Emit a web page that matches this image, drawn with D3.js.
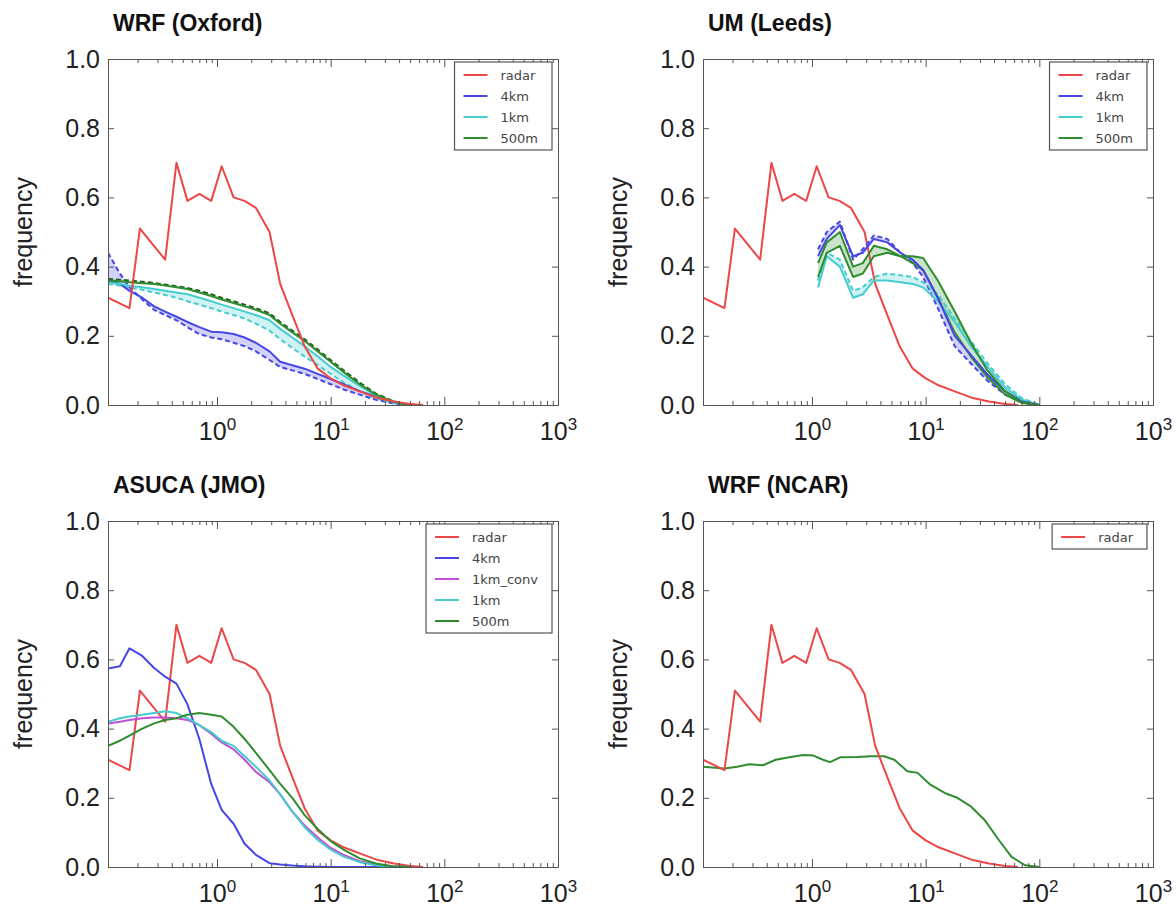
<!DOCTYPE html>
<html>
<head>
<meta charset="utf-8">
<script src="https://cdn.jsdelivr.net/npm/d3@7"></script>
<style>
  body { margin: 0; background: #fff; }
  svg { display: block; font-family: "Liberation Sans", Arial, Helvetica, sans-serif; }
</style>
</head>
<body>
<div id="chart"></div>
<script>
// radar observation, same in every panel
const radarX = [0.11, 0.17, 0.21, 0.35, 0.44, 0.55, 0.7, 0.89, 1.1, 1.4, 1.75, 2.2, 2.9, 3.6, 4.6, 5.9, 7.7, 10, 13, 18.5, 26, 36, 50, 65];
const radarY = [0.31, 0.28, 0.51, 0.42, 0.70, 0.59, 0.61, 0.59, 0.69, 0.60, 0.59, 0.57, 0.50, 0.35, 0.26, 0.17, 0.105, 0.077, 0.057, 0.038, 0.02, 0.01, 0.003, 0.0];

// WRF (Oxford)
const oxfX = [0.11, 0.14, 0.17, 0.22, 0.28, 0.35, 0.44, 0.55, 0.7, 0.89, 1.1, 1.4, 1.75, 2.2, 2.9, 3.6, 4.6, 5.9, 7.7, 10, 13, 18, 25, 35, 45, 55];
const oxf4kmSolid = [0.36, 0.35, 0.33, 0.31, 0.285, 0.27, 0.255, 0.24, 0.225, 0.212, 0.21, 0.205, 0.195, 0.18, 0.155, 0.125, 0.115, 0.105, 0.09, 0.075, 0.06, 0.04, 0.025, 0.01, 0.003, 0];
const oxf4kmDash = [0.44, 0.38, 0.34, 0.305, 0.275, 0.26, 0.245, 0.225, 0.205, 0.195, 0.19, 0.18, 0.17, 0.155, 0.13, 0.11, 0.1, 0.09, 0.075, 0.06, 0.045, 0.03, 0.015, 0.005, 0.001, 0];
const oxf1kmSolid = [0.355, 0.35, 0.345, 0.34, 0.335, 0.33, 0.325, 0.32, 0.31, 0.3, 0.29, 0.28, 0.27, 0.26, 0.245, 0.22, 0.195, 0.17, 0.14, 0.11, 0.085, 0.055, 0.028, 0.01, 0.002, 0];
const oxf1kmDash = [0.35, 0.345, 0.34, 0.333, 0.325, 0.318, 0.31, 0.3, 0.29, 0.28, 0.27, 0.26, 0.25, 0.235, 0.215, 0.19, 0.165, 0.14, 0.115, 0.09, 0.065, 0.04, 0.02, 0.006, 0.001, 0];
const oxf500Solid = [0.36, 0.358, 0.355, 0.352, 0.35, 0.345, 0.34, 0.335, 0.325, 0.315, 0.305, 0.295, 0.285, 0.275, 0.26, 0.235, 0.21, 0.185, 0.155, 0.125, 0.095, 0.06, 0.03, 0.01, 0.002, 0];
const oxf500Dash = [0.365, 0.362, 0.36, 0.356, 0.353, 0.348, 0.343, 0.338, 0.33, 0.32, 0.31, 0.3, 0.29, 0.28, 0.265, 0.24, 0.215, 0.19, 0.16, 0.13, 0.1, 0.065, 0.033, 0.012, 0.003, 0];

// UM (Leeds)
const umX = [1.13, 1.35, 1.76, 2.3, 2.8, 3.5, 4.6, 6.0, 7.7, 9.5, 12.8, 18, 25, 35, 50, 70, 100];
const um4kmSolid = [0.43, 0.48, 0.52, 0.43, 0.44, 0.48, 0.47, 0.44, 0.42, 0.39, 0.31, 0.20, 0.145, 0.088, 0.04, 0.01, 0];
const um4kmDash = [0.45, 0.50, 0.53, 0.42, 0.45, 0.49, 0.48, 0.44, 0.41, 0.37, 0.28, 0.17, 0.12, 0.07, 0.03, 0.007, 0];
const um1kmSolid = [0.34, 0.43, 0.40, 0.31, 0.32, 0.36, 0.36, 0.355, 0.35, 0.34, 0.30, 0.24, 0.17, 0.11, 0.05, 0.015, 0];
const um1kmDash = [0.36, 0.44, 0.42, 0.33, 0.34, 0.37, 0.38, 0.375, 0.37, 0.355, 0.32, 0.25, 0.185, 0.12, 0.06, 0.02, 0];
const um500Solid = [0.37, 0.44, 0.46, 0.37, 0.38, 0.43, 0.44, 0.43, 0.43, 0.425, 0.36, 0.27, 0.18, 0.1, 0.04, 0.008, 0];
const um500Dash = [0.41, 0.47, 0.50, 0.40, 0.41, 0.46, 0.45, 0.43, 0.41, 0.39, 0.31, 0.21, 0.14, 0.08, 0.03, 0.006, 0];

// ASUCA (JMO)
const jmoX = [0.11, 0.14, 0.17, 0.22, 0.28, 0.35, 0.44, 0.55, 0.7, 0.89, 1.1, 1.4, 1.75, 2.2, 2.9, 3.6, 4.6, 5.9, 7.7, 10, 13, 18, 25, 35, 50];
const jmo4km = [0.574, 0.58, 0.632, 0.61, 0.575, 0.55, 0.53, 0.47, 0.37, 0.24, 0.165, 0.125, 0.067, 0.035, 0.011, 0.007, 0.004, 0.002, 0.001, 0, 0, 0, 0, 0, 0];
const jmo1kmConv = [0.415, 0.42, 0.425, 0.43, 0.432, 0.432, 0.43, 0.425, 0.41, 0.385, 0.36, 0.34, 0.31, 0.275, 0.245, 0.21, 0.16, 0.12, 0.085, 0.055, 0.035, 0.017, 0.007, 0.002, 0];
const jmo1km = [0.42, 0.43, 0.435, 0.44, 0.445, 0.45, 0.445, 0.43, 0.41, 0.39, 0.365, 0.35, 0.32, 0.29, 0.25, 0.21, 0.16, 0.115, 0.078, 0.05, 0.03, 0.014, 0.005, 0.001, 0];
const jmo500 = [0.35, 0.365, 0.38, 0.40, 0.415, 0.425, 0.43, 0.44, 0.445, 0.44, 0.435, 0.405, 0.37, 0.33, 0.28, 0.24, 0.2, 0.15, 0.11, 0.075, 0.05, 0.025, 0.01, 0.002, 0];

// WRF (NCAR)
const ncarX = [0.11, 0.17, 0.22, 0.28, 0.37, 0.48, 0.65, 0.84, 1.03, 1.25, 1.44, 1.77, 2.5, 3.3, 4.3, 5.3, 6.9, 8.5, 11, 14.7, 19, 25, 33, 44, 57, 75, 100];
const ncarModel = [0.29, 0.285, 0.29, 0.297, 0.294, 0.31, 0.318, 0.324, 0.322, 0.31, 0.303, 0.317, 0.318, 0.32, 0.32, 0.31, 0.277, 0.272, 0.238, 0.214, 0.2, 0.175, 0.136, 0.078, 0.029, 0.005, 0];

const xTicks = [1, 10, 100, 1000];
const yTicks = [0, 0.2, 0.4, 0.6, 0.8, 1.0];

const colors = {
    radar: '#ec4646',
    '4km': '#4646e6',
    '1km_conv': '#c24ed6',
    '1km': '#46cccc',
    '500m': '#2f8c2f'
};

const svgWidth = 1176;
const svgHeight = 907;
const plotW = 450;
const plotH = 346;

const svg = d3.select('#chart')
    .append('svg')
    .attr('width', svgWidth)
    .attr('height', svgHeight);

const panels = [
    {
        title: 'WRF (Oxford)', left: 108, top: 59,
        legend: ['radar', '4km', '1km', '500m'],
        bands: [
            { x: oxfX, y0: oxf4kmSolid, y1: oxf4kmDash, key: '4km' },
            { x: oxfX, y0: oxf1kmSolid, y1: oxf1kmDash, key: '1km' },
            { x: oxfX, y0: oxf500Solid, y1: oxf500Dash, key: '500m' }
        ],
        lines: [
            { x: oxfX, y: oxf4kmDash, key: '4km', dash: '5,3' },
            { x: oxfX, y: oxf1kmDash, key: '1km', dash: '5,3' },
            { x: oxfX, y: oxf500Dash, key: '500m', dash: '5,3', stroke: '#1f5f1f' },
            { x: oxfX, y: oxf4kmSolid, key: '4km' },
            { x: oxfX, y: oxf1kmSolid, key: '1km' },
            { x: oxfX, y: oxf500Solid, key: '500m' },
            { x: radarX, y: radarY, key: 'radar' }
        ]
    },
    {
        title: 'UM (Leeds)', left: 703, top: 59,
        legend: ['radar', '4km', '1km', '500m'],
        bands: [
            { x: umX, y0: um4kmSolid, y1: um4kmDash, key: '4km' },
            { x: umX, y0: um1kmSolid, y1: um1kmDash, key: '1km' },
            { x: umX, y0: um500Solid, y1: um500Dash, key: '500m' }
        ],
        lines: [
            { x: radarX, y: radarY, key: 'radar' },
            { x: umX, y: um4kmDash, key: '4km', dash: '5,3' },
            { x: umX, y: um1kmDash, key: '1km', dash: '5,3' },
            { x: umX, y: um500Dash, key: '500m' },
            { x: umX, y: um1kmSolid, key: '1km' },
            { x: umX, y: um4kmSolid, key: '4km' },
            { x: umX, y: um500Solid, key: '500m' }
        ]
    },
    {
        title: 'ASUCA (JMO)', left: 108, top: 521,
        legend: ['radar', '4km', '1km_conv', '1km', '500m'],
        bands: [],
        lines: [
            { x: radarX, y: radarY, key: 'radar' },
            { x: jmoX, y: jmo4km, key: '4km' },
            { x: jmoX, y: jmo1kmConv, key: '1km_conv' },
            { x: jmoX, y: jmo1km, key: '1km' },
            { x: jmoX, y: jmo500, key: '500m' }
        ]
    },
    {
        title: 'WRF (NCAR)', left: 703, top: 521,
        legend: ['radar'],
        bands: [],
        lines: [
            { x: ncarX, y: ncarModel, key: '500m' },
            { x: radarX, y: radarY, key: 'radar' }
        ]
    }
];

function drawPanel(p, idx) {
    const g = svg.append('g')
        .attr('transform', `translate(${p.left}, ${p.top})`);

    const x = d3.scaleLog().domain([0.11, 1000]).range([0, plotW]);
    const y = d3.scaleLinear().domain([0, 1]).range([plotH, 0]);

    g.append('clipPath')
        .attr('id', `clip${idx}`)
        .append('rect')
        .attr('width', plotW)
        .attr('height', plotH);

    const plot = g.append('g').attr('clip-path', `url(#clip${idx})`);

    const area = d3.area()
        .x(d => x(d[0]))
        .y0(d => y(d[1]))
        .y1(d => y(d[2]));

    plot.selectAll('.band')
        .data(p.bands)
        .enter()
        .append('path')
        .attr('class', 'band')
        .attr('d', b => area(b.x.map((v, i) => [v, b.y0[i], b.y1[i]])))
        .attr('fill', b => colors[b.key])
        .attr('fill-opacity', 0.25);

    const line = d3.line()
        .x(d => x(d[0]))
        .y(d => y(d[1]));

    plot.selectAll('.series')
        .data(p.lines)
        .enter()
        .append('path')
        .attr('class', 'series')
        .attr('d', s => line(s.x.map((v, i) => [v, s.y[i]])))
        .attr('fill', 'none')
        .attr('stroke', s => s.stroke || colors[s.key])
        .attr('stroke-width', 2)
        .attr('stroke-dasharray', s => s.dash || null)
        .attr('stroke-linejoin', 'round');

    // axes, ticks pointing inward like matplotlib classic
    const minor = x.ticks().filter(v => xTicks.indexOf(v) < 0);

    const bottom = g.append('g')
        .attr('class', 'x-major')
        .attr('transform', `translate(0, ${plotH})`)
        .call(d3.axisBottom(x).tickValues(xTicks).tickSizeInner(-8).tickSizeOuter(0).tickPadding(17).tickFormat(() => ''));

    bottom.selectAll('.tick text')
        .each(function(d) {
            const t = d3.select(this);
            t.append('tspan').text('10');
            t.append('tspan')
                .attr('dy', '-0.55em')
                .style('font-size', '17px')
                .text(Math.round(Math.log10(d)));
        });

    g.append('g')
        .attr('transform', `translate(0, ${plotH})`)
        .call(d3.axisBottom(x).tickValues(minor).tickSizeInner(-4).tickSizeOuter(0).tickFormat(''));

    g.append('g')
        .call(d3.axisTop(x).tickValues(xTicks).tickSizeInner(-8).tickSizeOuter(0).tickFormat(''));
    g.append('g')
        .call(d3.axisTop(x).tickValues(minor).tickSizeInner(-4).tickSizeOuter(0).tickFormat(''));

    g.append('g')
        .call(d3.axisLeft(y).tickValues(yTicks).tickSizeInner(-6).tickSizeOuter(0).tickPadding(8).tickFormat(d3.format('.1f')));

    g.append('g')
        .attr('transform', `translate(${plotW}, 0)`)
        .call(d3.axisRight(y).tickValues(yTicks).tickSizeInner(-6).tickSizeOuter(0).tickFormat(''));

    g.selectAll('.domain, .tick line').attr('stroke', '#555');
    g.selectAll('.tick text')
        .attr('fill', '#222')
        .style('font-size', '25px')
        .style('font-family', '"Liberation Sans", Arial, sans-serif');

    g.append('text')
        .attr('x', 5)
        .attr('y', -28)
        .attr('fill', '#111')
        .style('font-size', '23px')
        .style('font-weight', 'bold')
        .text(p.title);

    g.append('text')
        .attr('transform', `translate(-76, ${plotH / 2}) rotate(-90)`)
        .attr('text-anchor', 'middle')
        .attr('fill', '#222')
        .style('font-size', '25px')
        .text('frequency');

    // legend in the upper right corner
    const lgnd = g.append('g').attr('class', 'legend');
    const box = lgnd.append('rect')
        .attr('fill', '#fff')
        .attr('stroke', '#555')
        .attr('stroke-width', 1.2);

    const item = lgnd.selectAll('.legend-item')
        .data(p.legend)
        .enter()
        .append('g')
        .attr('class', 'legend-item')
        .attr('transform', (d, i) => `translate(0, ${13 + i * 21})`);

    item.append('line')
        .attr('x1', 9)
        .attr('x2', 33)
        .attr('stroke', d => colors[d])
        .attr('stroke-width', 2);

    item.append('text')
        .attr('x', 46)
        .attr('y', 5)
        .attr('fill', '#444')
        .style('font-family', '"DejaVu Sans", sans-serif')
        .style('font-size', '13px')
        .text(d => d);

    let maxLen = 0;
    item.selectAll('text').each(function() { maxLen = Math.max(maxLen, this.getComputedTextLength()); });
    const boxW = 46 + maxLen + 14;
    const boxH = 13 + (p.legend.length - 1) * 21 + 12;
    box.attr('width', boxW).attr('height', boxH);
    lgnd.attr('transform', `translate(${plotW - 6 - boxW}, 3)`);
}

panels.forEach(drawPanel);
</script>
</body>
</html>
